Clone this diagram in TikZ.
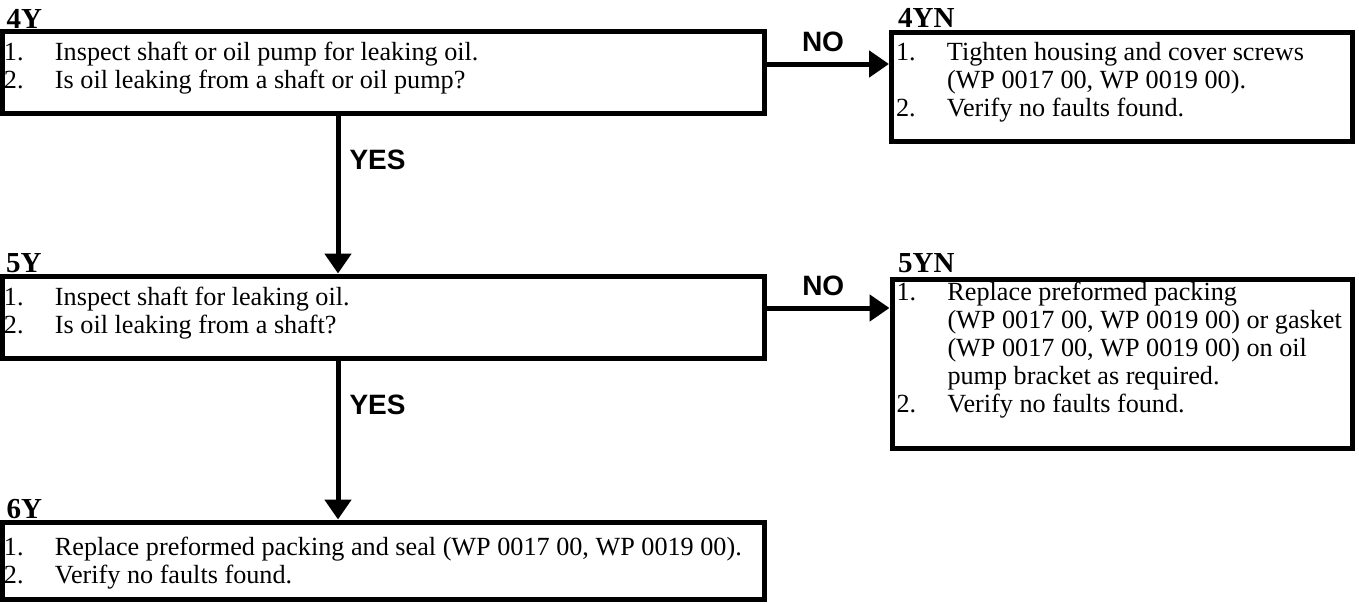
\documentclass[tikz,border=0pt]{standalone}
\usepackage{fontspec}
\setmainfont{Liberation Serif}
\setsansfont{Liberation Sans}
\usetikzlibrary{arrows.meta}

% text inside a step box: width, height, first baseline, left pad, lines
\newcommand{\boxtext}[5]{\parbox[t][#2pt][t]{#1pt}{\fontsize{26.2}{28}\selectfont\leftskip=#4pt\rightskip=0pt plus 1fil\parindent=0pt\noindent\rule{0pt}{#3pt}#5}}
\newcommand{\st}[2]{\makebox[51pt][l]{#1}\mbox{#2}\par}

\begin{document}
\begin{tikzpicture}[x=1pt,y=1pt,
  stepbox/.style={draw,line width=5pt,inner sep=0pt,anchor=north west},
  tag/.style={font=\fontsize{29}{29}\selectfont\bfseries,inner sep=0pt,anchor=base west},
  ans/.style={font=\sffamily\bfseries\fontsize{28}{28}\selectfont,inner sep=0pt},
  arrow/.style={-{Triangle[length=20pt,width=26pt]},line width=5pt}]
\useasboundingbox (0,0) rectangle (1359,-603);

\node[tag] (l4y) at (6.5,-28) {4Y};
\node[stepbox] (b4y) at (0,-29) {\boxtext{762}{81.5}{28.5}{1.5}{%
\st{1.}{Inspect shaft or oil pump for leaking oil.}
\st{2.}{Is oil leaking from a shaft or oil pump?}}};

\node[tag] (l4yn) at (898,-27) {4YN};
\node[stepbox] (b4yn) at (889,-30) {\boxtext{461}{109}{27.5}{4.5}{%
\st{1.}{Tighten housing and cover screws}
\st{}{(WP 0017 00, WP 0019 00).}
\st{2.}{Verify no faults found.}}};

\node[tag] (l5y) at (6,-272) {5Y};
\node[stepbox] (b5y) at (0,-273.5) {\boxtext{762}{82}{29}{1.5}{%
\st{1.}{Inspect shaft for leaking oil.}
\st{2.}{Is oil leaking from a shaft?}}};

\node[tag] (l5yn) at (898,-272) {5YN};
\node[stepbox] (b5yn) at (889.5,-276.5) {\boxtext{460}{169.5}{21}{4.5}{%
\st{1.}{Replace preformed packing}
\st{}{(WP 0017 00, WP 0019 00) or gasket}
\st{}{(WP 0017 00, WP 0019 00) on oil}
\st{}{pump bracket as required.}
\st{2.}{Verify no faults found.}}};

\node[tag] (l6y) at (6.5,-518) {6Y};
\node[stepbox] (b6y) at (0,-519.5) {\boxtext{762}{77.5}{33}{1.5}{%
\st{1.}{Replace preformed packing and seal (WP 0017 00, WP 0019 00).}
\st{2.}{Verify no faults found.}}};

% connectors
\coordinate (yescol) at (338,0);
\coordinate (no1) at (0,-64);
\coordinate (no2) at (0,-308);
\draw[arrow] (b4y.east |- no1) -- node[ans,midway,above,yshift=10pt,xshift=-5pt] {NO} (b4yn.west |- no1);
\draw[arrow] (b5y.east |- no2) -- node[ans,midway,above,yshift=10pt,xshift=-5pt] {NO} (b5yn.west |- no2);
\draw[arrow] (b4y.south -| yescol) -- node[ans,pos=.28,right,xshift=9pt] {YES} (b5y.north -| yescol);
\draw[arrow] (b5y.south -| yescol) -- node[ans,pos=.28,right,xshift=9pt] {YES} (b6y.north -| yescol);

\end{tikzpicture}
\end{document}
